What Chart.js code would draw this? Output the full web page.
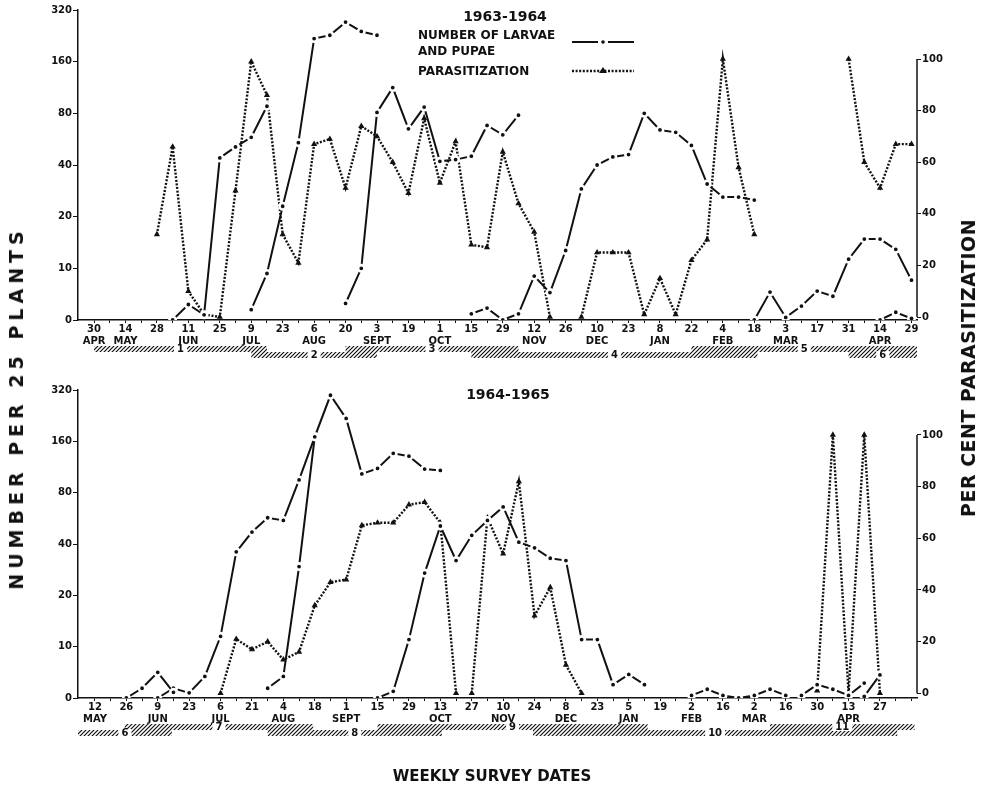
<!DOCTYPE html>
<html>
<head>
<meta charset="utf-8">
<script src="https://cdn.jsdelivr.net/npm/chart.js@4.4.1/dist/chart.umd.min.js"></script>
<style>
  body { margin: 0; background: #fff; }
  #wrap { position: relative; width: 984px; height: 798px; font-family: "DejaVu Sans", sans-serif; color: #111; }
  canvas { position: absolute; left: 0; }
  #c1 { top: 0; }
  #c2 { top: 372px; }
  .lbl { position: absolute; white-space: nowrap; font-weight: bold; transform: translate(-50%, -50%); }
  .rot { transform: translate(-50%, -50%) rotate(-90deg); }
</style>
</head>
<body>
<div id="wrap">
  <canvas id="c1" width="984" height="372"></canvas>
  <canvas id="c2" width="984" height="426"></canvas>
  <div class="lbl" style="left:505px; top:16px; font-size:14px;">1963-1964</div>
  <div class="lbl" style="left:508px; top:394px; font-size:14px;">1964-1965</div>
  <div class="lbl rot" style="left:16px; top:408px; font-size:19px; letter-spacing:5px;">NUMBER PER 25 PLANTS</div>
  <div class="lbl rot" style="left:968px; top:368px; font-size:19px; letter-spacing:0.5px;">PER CENT PARASITIZATION</div>
  <div class="lbl" style="left:492px; top:776px; font-size:15px;">WEEKLY SURVEY DATES</div>
</div>
<script>
// tick labels
var leftTicks = [0, 10, 20, 40, 80, 160, 320];
var rightTicks = [0, 20, 40, 60, 80, 100];

var topDays = ['30','14','28','11','25','9','23','6','20','3','19','1','15','29','12','26','10','23','8','22','4','18','3','17','31','14','29'];
var topMonths = ['APR','MAY','','JUN','','JUL','','AUG','','SEPT','','OCT','','','NOV','','DEC','','JAN','','FEB','','MAR','','','APR',''];
var botDays = ['12','26','9','23','6','21','4','18','1','15','29','13','27','10','24','8','23','5','19','2','16','2','16','30','13','27'];
var botMonths = ['MAY','','JUN','','JUL','','AUG','','SEPT','','','OCT','','NOV','','DEC','','JAN','','FEB','','MAR','','','APR',''];

// 1963-1964: number of larvae and pupae (per generation), first week index of each
var topLarvaeStart = [5, 10, 16, 24, 42, 50];
var topLarvae = [
  [0, 3, 1, 44, 51, 58, 88],
  [2, 9, 23, 54, 218, 228, 272, 240, 228],
  [3.2, 10, 81, 113, 65, 87, 42, 43, 45, 68, 60, 78],
  [1.2, 2.3, 0, 1.2, 8.5, 5.3, 12.7, 29, 40, 44.6, 46, 80, 64, 62, 52, 31, 26, 26, 25],
  [0, 5.4, 0.5, 2.7, 5.6, 4.6, 11.3, 14.8, 14.8, 12.9, 7.7],
  [0, 1.5, 0.3]
];
// 1963-1964: per cent parasitization
var topParaStart = [4, 31, 48];
var topPara = [
  [32, 66, 10, 1, 0, 49, 99, 86, 32, 21, 67, 69, 50, 74, 70, 60, 48, 77, 52, 68, 28, 27, 64, 44, 33, 0],
  [0, 25, 25, 25, 1, 15, 1, 22, 30, 100, 58, 32],
  [100, 60, 50, 67, 67]
];

// 1964-1965
var botLarvaeStart = [2, 4, 11, 18, 38, 45, 49];
var botLarvae = [
  [0, 1.9, 5, 1.1],
  [0, 1.9, 1, 4.2, 11.5, 36, 47, 57, 55, 95, 170],
  [1.9, 4.2, 29.5, 170, 298, 218, 103, 111, 136, 131, 110, 108],
  [0, 1.3, 11, 27, 51, 32, 45, 55, 66, 41, 38, 33, 32, 11, 11, 2.6, 4.6, 2.6],
  [0.5, 1.7, 0.5, 0, 0.5, 1.7, 0.5],
  [0.5, 2.6, 1.7, 0.5, 2.9],
  [0.3, 4.5]
];
var botParaStart = [8, 24, 46];
var botPara = [
  [0, 21, 17, 20, 13, 16, 34, 43, 44, 65, 66, 66, 73, 74, 66, 0],
  [0, 68, 54, 82, 30, 41, 11, 0],
  [1, 100, 0, 100, 0]
];

// generations (hatched bars under the dates), in weeks
var topGens = ['1', '2', '3', '4', '5', '6'];
var topGenFrom = [0, 10, 16, 24, 38, 48];
var topGenTo = [11, 18, 27, 42.2, 52.35, 52.35];
var topGenLow = [0, 1, 0, 1, 0, 1];
var botGens = ['6', '7', '8', '9', '10', '11'];
var botGenFrom = [-1.08, 1.9, 11, 18, 27.9, 43];
var botGenTo = [4.9, 13.9, 22.1, 35.2, 51.1, 52.2];
var botGenLow = [1, 0, 1, 0, 1, 0];

var ink = '#111';
var tickFont = { family: 'DejaVu Sans', size: 10, weight: 'bold', lineHeight: 1.15 };

// 0-10 linear, then doubling per step
function lv(v) { return v <= 10 ? v / 10 : 1 + Math.log2(v / 10); }

function larvaeSet(start, vals) {
  return {
    yAxisID: 'y',
    data: vals.map(function(v, i) { return { x: start + i, y: lv(v) }; }),
    borderColor: ink, borderWidth: 2, tension: 0,
    pointRadius: 3.2, pointBackgroundColor: ink, pointBorderColor: '#fff', pointBorderWidth: 2.6
  };
}
function paraSet(start, vals) {
  return {
    yAxisID: 'y2',
    data: vals.map(function(v, i) { return { x: start + i, y: v }; }),
    borderColor: ink, borderWidth: 2.4, borderDash: [2, 1.6], tension: 0,
    pointStyle: 'triangle', pointRadius: 3.6, pointBackgroundColor: ink, pointBorderWidth: 0
  };
}

function makeHatch(ctx) {
  var p = document.createElement('canvas');
  p.width = 4; p.height = 4;
  var c = p.getContext('2d');
  c.strokeStyle = ink; c.lineWidth = 1.2;
  c.beginPath();
  c.moveTo(0, 4); c.lineTo(4, 0);
  c.moveTo(-1, 1); c.lineTo(1, -1);
  c.moveTo(3, 5); c.lineTo(5, 3);
  c.stroke();
  return ctx.createPattern(p, 'repeat');
}

function genPlugin(names, from, to, low) {
  return {
    id: 'gens',
    afterDraw: function(chart) {
      var ctx = chart.ctx, sx = chart.scales.x, base = chart.chartArea.bottom;
      var hatch = makeHatch(ctx);
      ctx.save();
      ctx.font = 'bold 10px "DejaVu Sans"';
      ctx.textAlign = 'center';
      ctx.textBaseline = 'middle';
      for (var i = 0; i < names.length; i++) {
        var x0 = sx.getPixelForValue(from[i]), x1 = sx.getPixelForValue(to[i]);
        var y0 = base + (low[i] ? 32 : 26);
        ctx.fillStyle = hatch;
        ctx.fillRect(x0, y0, x1 - x0, 6);
      }
      for (var j = 0; j < names.length; j++) {
        var a = sx.getPixelForValue(from[j]), b = sx.getPixelForValue(to[j]);
        var m = (a + b) / 2, yy = base + (low[j] ? 35 : 29);
        var w = ctx.measureText(names[j]).width + 6;
        ctx.fillStyle = '#fff';
        ctx.fillRect(m - w / 2, yy - 4, w, 8);
        ctx.fillStyle = ink;
        ctx.fillText(names[j], m, yy);
      }
      ctx.restore();
    }
  };
}

var rightAxisLine = {
  id: 'raxis',
  afterDraw: function(chart) {
    var s = chart.scales.y2, x = chart.chartArea.right, ctx = chart.ctx;
    ctx.save();
    ctx.strokeStyle = ink; ctx.lineWidth = 1.5;
    ctx.beginPath();
    ctx.moveTo(x, s.getPixelForValue(0));
    ctx.lineTo(x, s.getPixelForValue(100));
    ctx.stroke();
    ctx.restore();
  }
};

var legendBox = {
  id: 'legendBox',
  afterDraw: function(chart) {
    var ctx = chart.ctx;
    ctx.save();
    ctx.fillStyle = ink;
    ctx.font = 'bold 12px "DejaVu Sans"';
    ctx.textBaseline = 'middle';
    ctx.textAlign = 'left';
    ctx.fillText('NUMBER OF LARVAE', 418, 36);
    ctx.fillText('AND PUPAE', 418, 52);
    ctx.fillText('PARASITIZATION', 418, 72);
    ctx.strokeStyle = ink;
    // dash-dot sample
    ctx.lineWidth = 2;
    ctx.beginPath(); ctx.moveTo(572, 42); ctx.lineTo(598, 42); ctx.moveTo(608, 42); ctx.lineTo(634, 42); ctx.stroke();
    ctx.beginPath(); ctx.arc(603, 42, 1.8, 0, Math.PI * 2); ctx.fill();
    // dotted sample with triangle
    ctx.lineWidth = 2.4;
    ctx.setLineDash([2, 1.6]);
    ctx.beginPath(); ctx.moveTo(572, 71); ctx.lineTo(634, 71); ctx.stroke();
    ctx.setLineDash([]);
    ctx.beginPath(); ctx.moveTo(603, 67); ctx.lineTo(607, 73); ctx.lineTo(599, 73); ctx.closePath(); ctx.fill();
    ctx.restore();
  }
};

function makeChart(id, cfg) {
  var ds = [];
  cfg.larvaeStart.forEach(function(s, i) { ds.push(larvaeSet(s, cfg.larvae[i])); });
  cfg.paraStart.forEach(function(s, i) { ds.push(paraSet(s, cfg.para[i])); });
  var weeks = [];
  for (var w = 0; w <= 52; w++) weeks.push(w);
  var plugins = [rightAxisLine, genPlugin(cfg.gens, cfg.genFrom, cfg.genTo, cfg.genLow)];
  if (cfg.legend) plugins.push(legendBox);

  return new Chart(document.getElementById(id), {
    type: 'line',
    data: { datasets: ds },
    options: {
      responsive: false,
      animation: false,
      layout: { padding: { top: cfg.padTop, left: 0, right: 0, bottom: 0 } },
      plugins: { legend: { display: false }, tooltip: { enabled: false } },
      scales: {
        x: {
          type: 'linear', min: cfg.xMin, max: cfg.xMax,
          afterBuildTicks: function(s) { s.ticks = weeks.map(function(v) { return { value: v }; }); },
          afterFit: function(s) { s.height = cfg.xHeight; },
          grid: { drawOnChartArea: false, tickLength: 3, color: ink },
          border: { color: ink, width: 1.5 },
          ticks: {
            autoSkip: false, maxRotation: 0, padding: 1, color: ink, font: tickFont,
            callback: function(v) {
              if (v % 2 !== 0) return '';
              var k = v / 2;
              if (k >= cfg.days.length) return '';
              return cfg.months[k] ? [cfg.days[k], cfg.months[k]] : cfg.days[k];
            }
          }
        },
        y: {
          position: 'left', min: 0, max: 6,
          afterBuildTicks: function(s) { s.ticks = leftTicks.map(function(t, i) { return { value: i }; }); },
          afterFit: function(s) { s.width = 78; },
          grid: { drawOnChartArea: false, tickLength: 5, color: ink },
          border: { color: ink, width: 1.5 },
          ticks: { padding: 1, color: ink, font: tickFont, callback: function(v) { return String(leftTicks[v]); } }
        },
        y2: {
          position: 'right', min: cfg.rMin, max: cfg.rMax,
          afterBuildTicks: function(s) { s.ticks = rightTicks.map(function(t) { return { value: t }; }); },
          afterFit: function(s) { s.width = 67; },
          grid: { drawOnChartArea: false, tickLength: 4, color: ink },
          border: { display: false },
          ticks: { padding: 1, color: ink, font: tickFont }
        }
      }
    },
    plugins: plugins
  });
}

makeChart('c1', {
  larvaeStart: topLarvaeStart, larvae: topLarvae, paraStart: topParaStart, para: topPara,
  days: topDays, months: topMonths,
  gens: topGens, genFrom: topGenFrom, genTo: topGenTo, genLow: topGenLow,
  xMin: -1.02, xMax: 52.35, rMin: -1.16, rMax: 119,
  padTop: 10, xHeight: 52, legend: true
});

makeChart('c2', {
  larvaeStart: botLarvaeStart, larvae: botLarvae, paraStart: botParaStart, para: botPara,
  days: botDays, months: botMonths,
  gens: botGens, genFrom: botGenFrom, genTo: botGenTo, genLow: botGenLow,
  xMin: -1.08, xMax: 52.36, rMin: -1.82, rMax: 117.4,
  padTop: 18, xHeight: 100, legend: false
});
</script>
</body>
</html>
